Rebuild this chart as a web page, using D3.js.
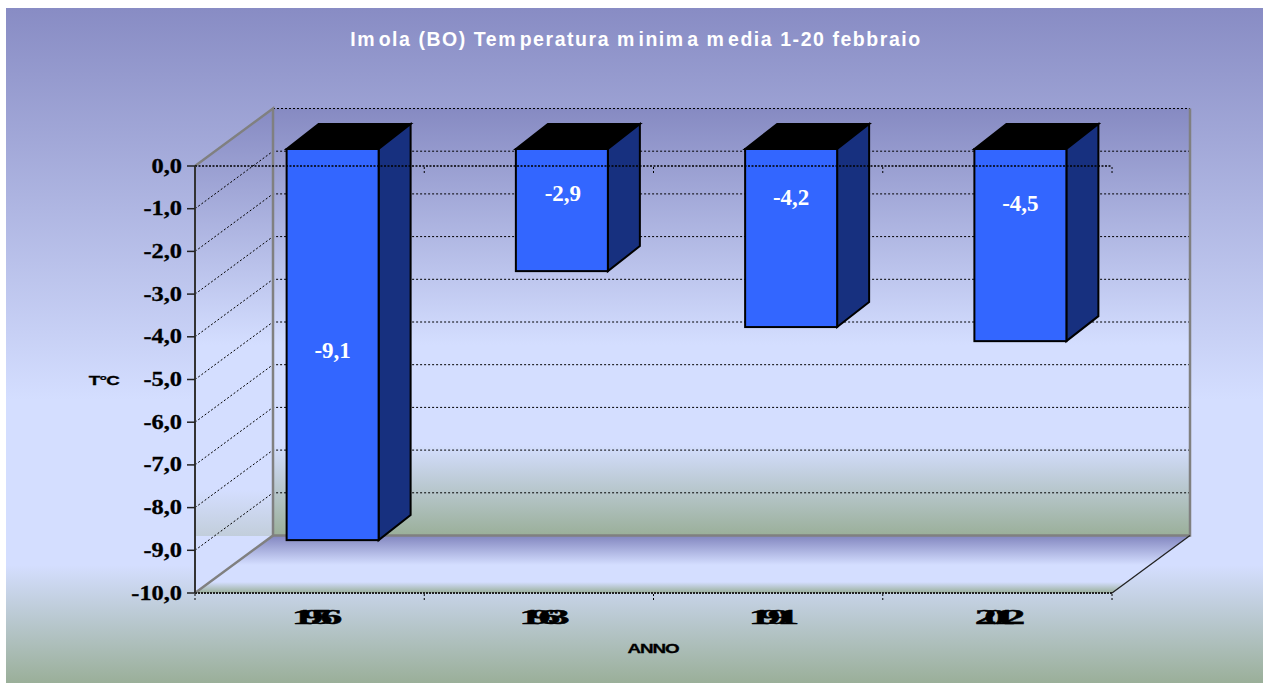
<!DOCTYPE html>
<html><head><meta charset="utf-8">
<script src="https://cdn.jsdelivr.net/npm/d3@7/dist/d3.min.js"></script>
<style>html,body{margin:0;padding:0;background:#fff;overflow:hidden}svg{display:block}</style>
</head><body><svg id="c" width="1263" height="683"></svg>
<script>
const categories = ["1956","1963","1991","2012"];
const printedValues = [-9.1,-2.9,-4.2,-4.5];
const barLevels = [-9.16,-2.86,-4.17,-4.5];
const yTicks = [0,-1,-2,-3,-4,-5,-6,-7,-8,-9,-10];
const titleText = "Imola (BO) Temperatura minima media 1-20 febbraio";
const yTitle = "T°C";
const xTitle = "ANNO";

const svg = d3.select("#c");
const defs = svg.append("defs");
const blue="#868AC2", light="#D4DEFF", green="#9AAF99";
function grad(id,y1,y2,stops){
  const g=defs.append("linearGradient").attr("id",id).attr("gradientUnits","userSpaceOnUse")
    .attr("x1",0).attr("x2",0).attr("y1",y1).attr("y2",y2);
  stops.forEach(s=>g.append("stop").attr("offset",(s[0]-y1)/(y2-y1)).attr("stop-color",s[1]));
}
grad("bg",8,683,[[8,"#888CC4"],[400,light],[565,light],[683,green]]);
grad("wall",108,536,[[108,blue],[345,light],[445,light],[536,green]]);
grad("floor",536,593,[[536,"#8387C0"],[565,light],[582,light],[593,green]]);
grad("side",108,593,[[108,blue],[345,light],[490,light],[536,"#C2CEDB"],[536,light],[593,light]]);

const X0=195,X1=1112,DX=78,DY=-57.5;
const y=d3.scaleLinear().domain([0,-10]).range([166,593]);
const x=d3.scaleBand().domain(categories).range([X0,X1]).paddingInner(0.5987).paddingOuter(0.2993);
const step=x.step();
const barDX=23,barDY=-17,sdx=32,sdy=-25;

svg.append("rect").attr("x",6).attr("y",8).attr("width",1257).attr("height",675).attr("fill","url(#bg)");
svg.append("rect").attr("x",X0+DX).attr("y",y(0)+DY).attr("width",X1-X0).attr("height",y(-10)-y(0)).attr("fill","url(#wall)");
svg.append("path").attr("d",d3.line()([[X0,y(0)],[X0+DX,y(0)+DY],[X0+DX,y(-10)+DY],[X0,y(-10)]])).attr("fill","url(#side)");
svg.append("path").attr("d",d3.line()([[X0,y(-10)],[X0+DX,y(-10)+DY],[X1+DX,y(-10)+DY],[X1,y(-10)]])).attr("fill","url(#floor)");

// gridlines on walls
const grid=svg.append("g").attr("fill","none").attr("stroke","#000").attr("stroke-width",1).attr("stroke-dasharray","2 2");
yTicks.filter(v=>v<0&&v>-10).forEach(v=>{
  grid.append("path").attr("d",d3.line()([[X0,y(v)],[X0+DX,y(v)+DY],[X1+DX,y(v)+DY]]));
});
grid.append("line").attr("x1",X0+DX).attr("x2",X1+DX).attr("y1",y(0)+DY).attr("y2",y(0)+DY).attr("stroke-width",1.2);

// frame
const frame=svg.append("g").attr("fill","none").attr("stroke","#808080").attr("stroke-width",2.5);
frame.append("path").attr("d",d3.line()([[X0,y(0)],[X0+DX,y(0)+DY],[X0+DX,y(-10)+DY],[X0,y(-10)]]));
frame.append("path").attr("d",d3.line()([[X0+DX,y(-10)+DY],[X1+DX,y(-10)+DY],[X1+DX,y(0)+DY]]));
svg.append("line").attr("x1",X1).attr("y1",y(-10)).attr("x2",X1+DX).attr("y2",y(-10)+DY).attr("stroke","#222").attr("stroke-width",1.3);

// bars
const bars=svg.append("g").attr("stroke","#000").attr("stroke-width",2).attr("stroke-linejoin","miter");
categories.forEach((c,i)=>{
  const l=x(c)+barDX, r=l+x.bandwidth(), t=y(0)+barDY, b=y(barLevels[i])+barDY;
  bars.append("path").attr("fill","#000").attr("d",d3.line()([[l,t],[l+sdx,t+sdy],[r+sdx,t+sdy],[r,t]])+"Z");
  bars.append("path").attr("fill","#17307F").attr("d",d3.line()([[r,t],[r+sdx,t+sdy],[r+sdx,b+sdy],[r,b]])+"Z");
  bars.append("rect").attr("fill","#3366FF").attr("x",l).attr("y",t).attr("width",r-l).attr("height",b-t);
});

// front axes
const front=svg.append("g").attr("fill","none").attr("stroke","#000");
front.append("line").attr("x1",X0).attr("x2",X1).attr("y1",y(0)).attr("y2",y(0)).attr("stroke-width",1.5).attr("stroke-dasharray","2 1.5");
front.append("line").attr("x1",X0).attr("x2",X1).attr("y1",y(-10)).attr("y2",y(-10)).attr("stroke-width",2).attr("stroke","#222").attr("stroke-dasharray","2 1");
d3.range(categories.length+1).forEach(i=>{
  const px=X0+i*step;
  [0,-10].forEach(v=>front.append("line").attr("x1",px).attr("x2",px).attr("y1",y(v)+1).attr("y2",y(v)+7).attr("stroke-width",1).attr("stroke-dasharray","2 2"));
});
svg.append("line").attr("x1",X0).attr("x2",X0).attr("y1",y(0)).attr("y2",y(-10)).attr("stroke","#333").attr("stroke-width",2);
svg.append("g").attr("stroke","#222").attr("stroke-width",1.5).selectAll("line").data(yTicks).join("line")
  .attr("x1",X0-8).attr("x2",X0).attr("y1",d=>y(d)).attr("y2",d=>y(d));

const serif="'Liberation Serif','Times New Roman',serif", sans="'Liberation Sans',Arial,sans-serif";
const fmt=v=>d3.format(".1f")(v).replace(".",",").replace("−","-");

// y tick labels
svg.append("g").selectAll("text").data(yTicks).join("text")
  .attr("transform",d=>`translate(182,${y(d)+6.5}) scale(1.16,1)`)
  .attr("text-anchor","end").attr("font-family",serif).attr("font-weight","bold").attr("font-size",21)
  .attr("fill","#000").attr("stroke","#000").attr("stroke-width",0.3)
  .text(fmt);

// data labels
const labelNudge=[6,-16,-40,-41];
categories.forEach((c,i)=>{
  const l=x(c)+barDX, mid=(y(0)+y(barLevels[i]))/2+barDY;
  svg.append("text").attr("x",l+x.bandwidth()/2+(i==1?1:0)).attr("y",mid+labelNudge[i]+7)
    .attr("text-anchor","middle").attr("font-family",serif).attr("font-weight","bold").attr("font-size",23).attr("fill","#fff")
    .text(fmt(printedValues[i]));
});

// category labels
const catCentres=[310.7,538.2,767.7,993.7];
svg.append("g").selectAll("text").data(categories).join("text")
  .attr("transform",(d,i)=>`translate(${catCentres[i]},624) scale(2.1,1)`)
  .attr("text-anchor","middle").attr("font-family",serif).attr("font-weight","bold").attr("font-size",21).attr("letter-spacing",-6)
  .attr("fill","#000").attr("stroke","#000").attr("stroke-width",0.4)
  .text(d=>d);

// axis titles
svg.append("text").attr("transform","translate(653,653) scale(1.45,1)").attr("text-anchor","middle")
  .attr("font-family",sans).attr("font-weight","bold").attr("font-size",13).attr("letter-spacing",-0.8)
  .attr("fill","#000").attr("stroke","#000").attr("stroke-width",0.3).text(xTitle);
svg.append("text").attr("transform","translate(104,385) scale(1.45,1)").attr("text-anchor","middle")
  .attr("font-family",sans).attr("font-weight","bold").attr("font-size",13).attr("letter-spacing",-0.5)
  .attr("fill","#000").attr("stroke","#000").attr("stroke-width",0.3).text(yTitle);

// title: wide tracking with the gap after each m seen in the reference
const title=svg.append("text").attr("x",636).attr("y",46).attr("text-anchor","middle")
  .attr("font-family",sans).attr("font-weight","bold").attr("font-size",19.5).attr("letter-spacing",1.55).attr("fill","#fff");
titleText.split(/(?<=m)/).forEach((part,i)=>{
  title.append("tspan").attr("dx",i?2.5:0).text(part);
});
</script></body></html>
